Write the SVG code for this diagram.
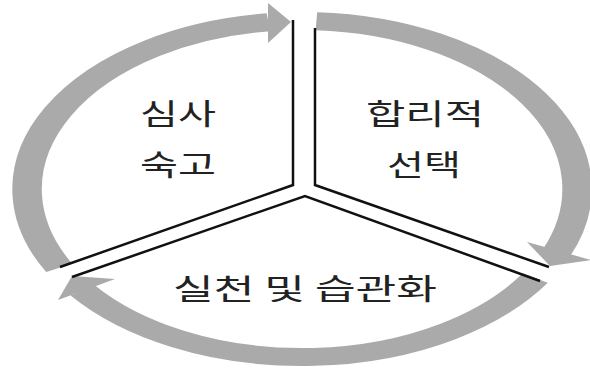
<svg xmlns="http://www.w3.org/2000/svg" width="590" height="368" viewBox="0 0 590 368">
<style>
.arc{fill:none;stroke:#aaaaaa;stroke-width:18;stroke-linecap:butt}
.head{fill:#aaaaaa;stroke:none}
.div{fill:none;stroke:#111;stroke-width:2.5;stroke-linejoin:miter}
.lbl{font-family:"Noto Sans CJK KR","Noto Sans",sans-serif;font-size:29px;fill:#222;text-anchor:middle}
</style>
<rect width="590" height="368" fill="#fff"/>
<g id="connectors">
  <g transform="translate(302,189) scale(1.637,1)">
    <path class="arc" d="M -148.3 78.9 A 168 168 0 0 1 -20.5 -166.7"/>
    <path class="arc" d="M 8.8 -167.8 A 168 168 0 0 1 155.8 62.9"/>
    <path class="arc" d="M 142.5 89.0 A 168 168 0 0 1 -134.2 101.1"/>
  </g>
  <polygon class="head" points="268,3 291,22 268,43"/>
  <polygon class="head" points="527,242 591,260 550,266"/>
  <polygon class="head" points="115,279 58,300 72,276"/>
</g>
<g id="node-reflect">
  <polyline class="div" points="293,20 293,185 60,267"/>
  <text class="lbl" x="178" y="125" textLength="76" lengthAdjust="spacingAndGlyphs">심사</text>
  <text class="lbl" x="178" y="176" textLength="76" lengthAdjust="spacingAndGlyphs">숙고</text>
</g>
<g id="node-choice">
  <polyline class="div" points="315,28 315,185 549,267"/>
  <text class="lbl" x="425" y="125" textLength="118" lengthAdjust="spacingAndGlyphs">합리적</text>
  <text class="lbl" x="424" y="176" textLength="74" lengthAdjust="spacingAndGlyphs">선택</text>
</g>
<g id="node-practice">
  <polyline class="div" points="72,277 305,196 540,281"/>
  <text class="lbl" x="305" y="300" textLength="264" lengthAdjust="spacingAndGlyphs">실천 및 습관화</text>
</g>
</svg>
